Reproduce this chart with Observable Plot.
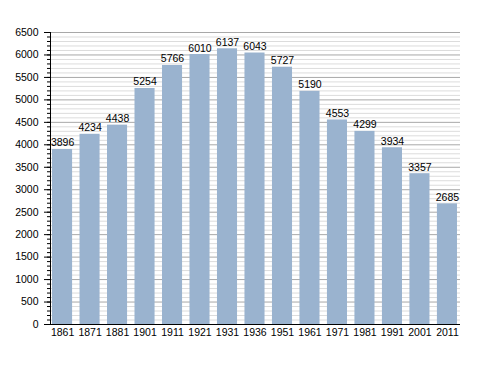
<!DOCTYPE html>
<html><head><meta charset="utf-8">
<script src="https://cdn.jsdelivr.net/npm/d3@7"></script>
<script src="https://cdn.jsdelivr.net/npm/@observablehq/plot@0.6"></script>
<style>body{margin:0;background:#fff}</style>
</head><body><div id="chart"></div>
<script>
const years = ["1861","1871","1881","1901","1911","1921","1931","1936","1951","1961","1971","1981","1991","2001","2011"];
const population = [3896,4234,4438,5254,5766,6010,6137,6043,5727,5190,4553,4299,3934,3357,2685];
const majorTicks = [0,500,1000,1500,2000,2500,3000,3500,4000,4500,5000,5500,6000,6500];
const minorTicks = d3.range(0, 6501, 100);

const data = years.map((y, i) => ({year: y, value: population[i]}));

const chart = Plot.plot({
  width: 488, height: 373,
  marginLeft: 50, marginRight: 28, marginTop: 32, marginBottom: 49,
  style: {fontFamily: "'Liberation Sans', Arial, sans-serif", fontSize: "10.5px", color: "#000", background: "#fff"},
  x: {domain: years, padding: 0.27, range: [44.6, 464.4], round: false, label: null},
  y: {domain: [0, 6500], label: null},
  marks: [
    Plot.ruleY(minorTicks.filter(d => d % 500 !== 0), {stroke: "#dcdcdc", strokeWidth: 1}),
    Plot.ruleY(majorTicks.filter(d => d > 0), {stroke: "#a8a8a8", strokeWidth: 1}),
    Plot.barY(data, {x: "year", y: "value", fill: "#9ab3cf"}),
    Plot.text(data, {x: "year", y: "value", text: d => String(d.value), lineAnchor: "bottom", dy: -3, fill: "#000", fontSize: 10.5}),
    Plot.axisY({ticks: minorTicks, tickSize: 3, text: null, stroke: "#000"}),
    Plot.axisY({ticks: majorTicks, tickSize: 6, tickPadding: 6, tickFormat: d => String(d), stroke: "#000", fill: "#000", fontSize: 10.5}),
    Plot.axisX({tickSize: 0, tickPadding: 4, fill: "#000", fontSize: 10.5}),
    Plot.ruleY([0], {stroke: "#000"}),
    Plot.frame({anchor: "left", stroke: "#000"})
  ]
});
document.getElementById("chart").appendChild(chart);
</script>
</body></html>
